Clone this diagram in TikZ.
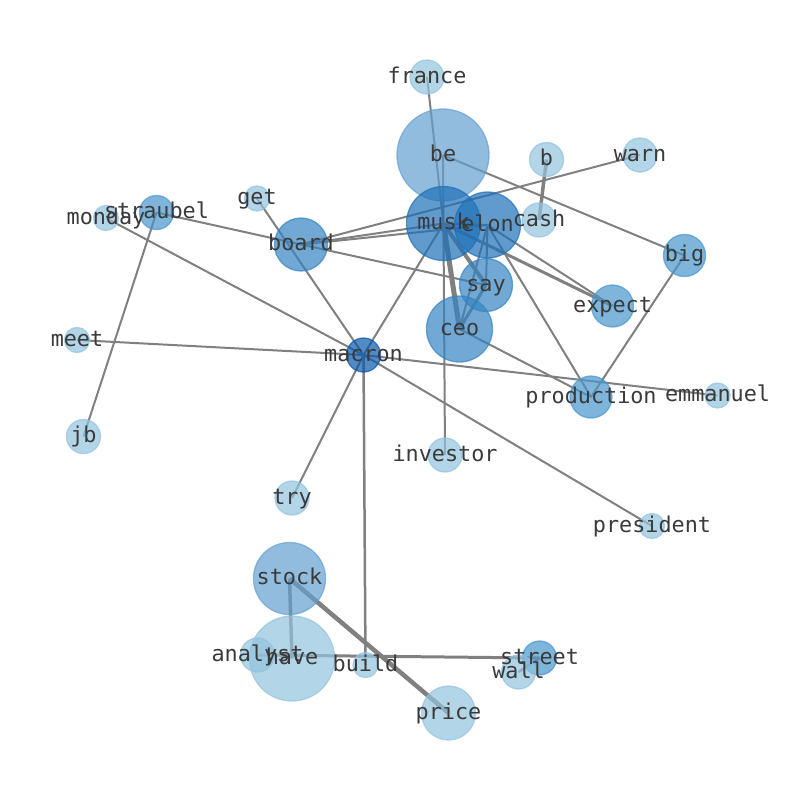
\documentclass[tikz,border=0pt]{standalone}
\usepackage{fontspec}
\setmonofont{DejaVu Sans Mono}
\definecolor{paleBlue}{RGB}{146, 195, 222}
\definecolor{softBlue}{RGB}{100, 160, 208}
\definecolor{midBlue}{RGB}{72, 150, 204}
\definecolor{deepBlue}{RGB}{52, 132, 194}
\definecolor{darkBlue}{RGB}{30, 112, 184}
\definecolor{inkBlue}{RGB}{8, 88, 170}
\definecolor{edgeGray}{RGB}{128, 128, 128}
\definecolor{labelGray}{RGB}{58, 58, 58}
\usepackage{tikz}
\usetikzlibrary{positioning,calc}

\begin{document}
\begin{tikzpicture}[x=1pt,y=-1pt,
        bubble/.style={circle,inner sep=0pt,fill=#1,draw=#1,fill opacity=0.7,
                       draw opacity=0.7,line width=1.3pt},
        link/.style={draw=edgeGray,line width=2pt},
        heavy/.style={draw=edgeGray,line width=#1},
        word/.style={anchor=base,yshift=-6pt,inner sep=0pt,text=labelGray,
                     font=\ttfamily\fontsize{21.8}{26}\selectfont}
    ]
        \useasboundingbox (0,0) rectangle (794,790);

        \coordinate (france) at (427,77);
        \coordinate (be) at (443,155);
        \coordinate (b) at (546.5,159.5);
        \coordinate (warn) at (640,155);
        \coordinate (get) at (257,198.5);
        \coordinate (monday) at (106,218);
        \coordinate (straubel) at (156.5,212.5);
        \coordinate (board) at (301,244.5);
        \coordinate (musk) at (443.5,223.5);
        \coordinate (elon) at (487.5,225);
        \coordinate (cash) at (539,220);
        \coordinate (big) at (684.5,255.5);
        \coordinate (say) at (486,285);
        \coordinate (expect) at (612.5,306);
        \coordinate (ceo) at (459.5,329);
        \coordinate (meet) at (77,340);
        \coordinate (macron) at (363.5,355);
        \coordinate (production) at (591,397);
        \coordinate (emmanuel) at (717.5,395.5);
        \coordinate (jb) at (83.5,436.5);
        \coordinate (investor) at (445,455);
        \coordinate (try) at (292,498);
        \coordinate (president) at (652,526);
        \coordinate (stock) at (289.5,578.5);
        \coordinate (analyst) at (257.5,655);
        \coordinate (have) at (292,658.5);
        \coordinate (build) at (365.5,665);
        \coordinate (street) at (539.5,658);
        \coordinate (wall) at (518.5,672);
        \coordinate (price) at (448.5,713);

        \draw[link] (france) -- (musk);
        \draw[link] (be) -- (investor);
        \draw[link] (be) -- (big);
        \draw[heavy=3.5pt] (b) -- (cash);
        \draw[link] (warn) -- (board);
        \draw[link] (straubel) -- (board);
        \draw[link] (straubel) -- (jb);
        \draw[link] (monday) -- (macron);
        \draw[link] (get) -- (macron);
        \draw[link] (board) -- (musk);
        \draw[link] (board) -- (elon);
        \draw[link] (board) -- (say);
        \draw[link] (meet) -- (macron);
        \draw[link] (macron) -- (musk);
        \draw[link] (macron) -- (emmanuel);
        \draw[link] (macron) -- (president);
        \draw[link] (macron) -- (try);
        \draw[heavy=2.5pt] (macron) -- (build);
        \draw[heavy=5pt] (musk) -- (ceo);
        \draw[heavy=4pt] (musk) -- (say);
        \draw[link] (musk) -- (elon);
        \draw[heavy=3pt] (musk) -- (expect);
        \draw[link] (elon) -- (expect);
        \draw[link] (elon) -- (say);
        \draw[link] (elon) -- (ceo);
        \draw[heavy=3pt] (say) -- (ceo);
        \draw[link] (elon) -- (production);
        \draw[link] (ceo) -- (production);
        \draw[link] (big) -- (production);
        \draw[heavy=3.5pt] (stock) -- (have);
        \draw[heavy=4.5pt] (stock) -- (price);
        \draw[heavy=3pt] (analyst) -- (street);
        \draw[heavy=2.5pt] (wall) -- (street);

        \node[bubble=paleBlue,minimum size=34pt] (france-c) at (france) {};
        \node[bubble=softBlue,minimum size=92pt] (be-c) at (be) {};
        \node[bubble=paleBlue,minimum size=34pt] (b-c) at (b) {};
        \node[bubble=paleBlue,minimum size=34pt] (warn-c) at (warn) {};
        \node[bubble=paleBlue,minimum size=25pt] (get-c) at (get) {};
        \node[bubble=paleBlue,minimum size=25pt] (monday-c) at (monday) {};
        \node[bubble=midBlue,minimum size=34pt] (straubel-c) at (straubel) {};
        \node[bubble=deepBlue,minimum size=53pt] (board-c) at (board) {};
        \node[bubble=darkBlue,minimum size=74pt] (musk-c) at (musk) {};
        \node[bubble=darkBlue,minimum size=66pt] (elon-c) at (elon) {};
        \node[bubble=paleBlue,minimum size=34pt] (cash-c) at (cash) {};
        \node[bubble=midBlue,minimum size=42pt] (big-c) at (big) {};
        \node[bubble=deepBlue,minimum size=53pt] (say-c) at (say) {};
        \node[bubble=midBlue,minimum size=42pt] (expect-c) at (expect) {};
        \node[bubble=deepBlue,minimum size=66pt] (ceo-c) at (ceo) {};
        \node[bubble=paleBlue,minimum size=25pt] (meet-c) at (meet) {};
        \node[bubble=inkBlue,minimum size=34pt] (macron-c) at (macron) {};
        \node[bubble=midBlue,minimum size=42pt] (production-c) at (production) {};
        \node[bubble=paleBlue,minimum size=25pt] (emmanuel-c) at (emmanuel) {};
        \node[bubble=paleBlue,minimum size=34pt] (jb-c) at (jb) {};
        \node[bubble=paleBlue,minimum size=34pt] (investor-c) at (investor) {};
        \node[bubble=paleBlue,minimum size=34pt] (try-c) at (try) {};
        \node[bubble=paleBlue,minimum size=25pt] (president-c) at (president) {};
        \node[bubble=softBlue,minimum size=72pt] (stock-c) at (stock) {};
        \node[bubble=paleBlue,minimum size=34pt] (analyst-c) at (analyst) {};
        \node[bubble=paleBlue,minimum size=85pt] (have-c) at (have) {};
        \node[bubble=paleBlue,minimum size=25pt] (build-c) at (build) {};
        \node[bubble=midBlue,minimum size=34pt] (street-c) at (street) {};
        \node[bubble=paleBlue,minimum size=34pt] (wall-c) at (wall) {};
        \node[bubble=paleBlue,minimum size=54pt] (price-c) at (price) {};

        \node[word] (france-t) at (france) {france};
        \node[word] (be-t) at (be) {be};
        \node[word] (b-t) at (b) {b};
        \node[word] (warn-t) at (warn) {warn};
        \node[word] (get-t) at (get) {get};
        \node[word] (monday-t) at (monday) {monday};
        \node[word] (straubel-t) at (straubel) {straubel};
        \node[word] (board-t) at (board) {board};
        \node[word] (musk-t) at (musk) {musk};
        \node[word] (elon-t) at (elon) {elon};
        \node[word] (cash-t) at (cash) {cash};
        \node[word] (big-t) at (big) {big};
        \node[word] (say-t) at (say) {say};
        \node[word] (expect-t) at (expect) {expect};
        \node[word] (ceo-t) at (ceo) {ceo};
        \node[word] (meet-t) at (meet) {meet};
        \node[word] (macron-t) at (macron) {macron};
        \node[word] (production-t) at (production) {production};
        \node[word] (emmanuel-t) at (emmanuel) {emmanuel};
        \node[word] (jb-t) at (jb) {jb};
        \node[word] (investor-t) at (investor) {investor};
        \node[word] (try-t) at (try) {try};
        \node[word] (president-t) at (president) {president};
        \node[word] (stock-t) at (stock) {stock};
        \node[word] (analyst-t) at (analyst) {analyst};
        \node[word] (have-t) at (have) {have};
        \node[word] (build-t) at (build) {build};
        \node[word] (street-t) at (street) {street};
        \node[word] (wall-t) at (wall) {wall};
        \node[word] (price-t) at (price) {price};
    \end{tikzpicture}
\end{document}
